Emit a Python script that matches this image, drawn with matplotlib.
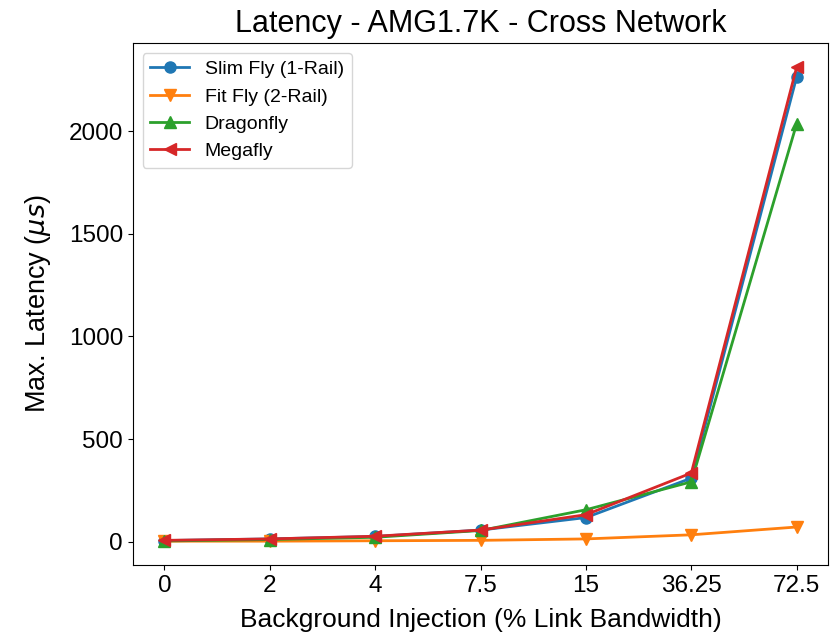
import matplotlib
matplotlib.use('Agg')
import matplotlib.pyplot as plt
import numpy as np

plt.rcParams['font.family'] = ['Liberation Sans', 'DejaVu Sans']

loads = ['0', '2', '4', '7.5', '15', '36.25', '72.5']
slim_fly = [6, 14, 26, 57, 118, 310, 2265]
fit_fly = [3, 3, 5, 7, 14, 34, 72]
dragonfly = [4, 11, 22, 55, 156, 292, 2037]
megafly = [7, 14, 27, 57, 132, 335, 2313]

x = np.arange(len(loads))

fig = plt.figure(figsize=(8.3, 6.34), dpi=100)
ax = fig.add_axes([0.160, 0.109, 0.838, 0.823])

ax.plot(x, slim_fly, marker='o', color='tab:blue', lw=2, ms=8, label='Slim Fly (1-Rail)')
ax.plot(x, fit_fly, marker='v', color='tab:orange', lw=2, ms=8, label='Fit Fly (2-Rail)')
ax.plot(x, dragonfly, marker='^', color='tab:green', lw=2, ms=8, label='Dragonfly')
ax.plot(x, megafly, marker='<', color='tab:red', lw=2, ms=8, label='Megafly')

ax.set_xticks(x)
ax.set_xticklabels(loads)
ax.tick_params(labelsize=17.5)
ax.set_yticks([0, 500, 1000, 1500, 2000])
ax.set_xlabel('Background Injection (% Link Bandwidth)', fontsize=19, labelpad=8)
ax.set_ylabel(r'Max. Latency ($\mu s$)', fontsize=19.5, labelpad=11)
ax.set_title('Latency - AMG1.7K - Cross Network', fontsize=22, pad=8)
ax.legend(loc='upper left', fontsize=14)

fig.savefig('out.png', dpi=100)
